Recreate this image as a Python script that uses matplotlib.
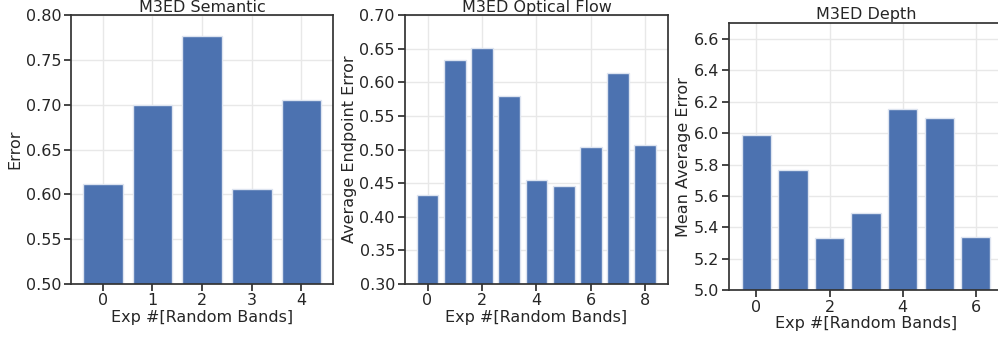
import matplotlib
matplotlib.use("Agg")
import matplotlib.pyplot as plt
import seaborn as sns

sns.set_theme(style="ticks")
plt.rcParams['font.family'] = ['DejaVu Sans']

# data
sem_exp = [0, 1, 2, 3, 4]
sem_err = [0.612, 0.700, 0.777, 0.606, 0.705]

flow_exp = [0, 1, 2, 3, 4, 5, 6, 7, 8]
flow_epe = [0.432, 0.633, 0.651, 0.580, 0.455, 0.446, 0.504, 0.614, 0.506]

depth_exp = [0, 1, 2, 3, 4, 5, 6]
depth_mae = [5.986, 5.766, 5.330, 5.495, 6.156, 6.095, 5.341]

bar_color = "#4C72B0"
fs = 11.5

fig = plt.figure(figsize=(9.98, 3.39), dpi=100)
ax1 = fig.add_axes([0.0711, 0.1631, 0.2628, 0.7917])
ax2 = fig.add_axes([0.4055, 0.1631, 0.2641, 0.7917])
ax3 = fig.add_axes([0.7308, 0.1437, 0.2740, 0.7876])


def style_ax(ax, title, ylabel, ylim, tpad):
    ax.set_axisbelow(True)
    ax.grid(True, color="#e8e8e8", linewidth=1.0)
    ax.set_ylim(*ylim)
    ax.set_title(title, fontsize=fs, pad=tpad, color="#262626")
    ax.set_xlabel("Exp #[Random Bands]", fontsize=fs, labelpad=1, color="#262626")
    ax.set_ylabel(ylabel, fontsize=fs, labelpad=2, color="#262626")
    ax.tick_params(labelsize=fs, length=5, width=1.2, pad=2, colors="#262626")
    for s in ax.spines.values():
        s.set_linewidth(1.25)
        s.set_color("#333333")


ax1.bar(sem_exp, sem_err, width=0.8, color=bar_color, edgecolor="#dde4f0", linewidth=1)
style_ax(ax1, "M3ED Semantic", "Error", (0.5, 0.8), 1.8)
ax1.set_xticks(sem_exp)

ax2.bar(flow_exp, flow_epe, width=0.8, color=bar_color, edgecolor="#dde4f0", linewidth=1)
style_ax(ax2, "M3ED Optical Flow", "Average Endpoint Error", (0.3, 0.7), 1.8)
ax2.set_xticks([0, 2, 4, 6, 8])

ax3.bar(depth_exp, depth_mae, width=0.8, color=bar_color, edgecolor="#dde4f0", linewidth=1)
style_ax(ax3, "M3ED Depth", "Mean Average Error", (5.0, 6.7), 3)
ax3.set_xticks([0, 2, 4, 6])
ax3.set_yticks([5.0, 5.2, 5.4, 5.6, 5.8, 6.0, 6.2, 6.4, 6.6])

fig.savefig("out.png", dpi=100)
